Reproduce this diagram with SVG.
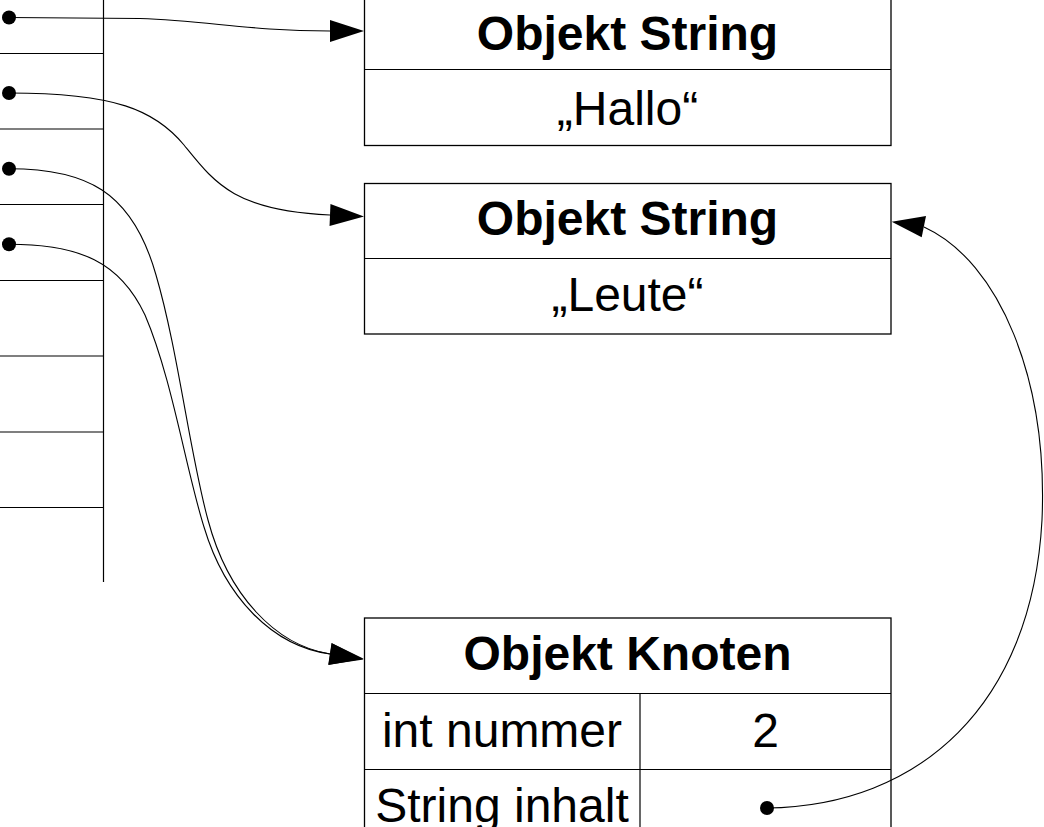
<svg xmlns="http://www.w3.org/2000/svg" width="1044" height="827" viewBox="0 0 1044 827">
  <style>
    .ln { fill: none; stroke: #000; stroke-width: 1.2; }
    .bx { fill: #fff; stroke: #000; stroke-width: 1.3; }
    .cn { fill: none; stroke: #000; stroke-width: 1.1; }
    .dot { fill: #000; }
    .hd { font-family: "Liberation Sans", Arial, sans-serif; font-size: 48px; font-weight: bold; text-anchor: middle; fill: #000; }
    .tx { font-family: "Liberation Sans", Arial, sans-serif; font-size: 48px; text-anchor: middle; fill: #000; }
  </style>
  <defs>
    <marker id="arr" markerUnits="userSpaceOnUse" markerWidth="36" markerHeight="24" refX="0" refY="11" orient="auto" overflow="visible">
      <path d="M0,0 L34,11 L0,22 z" fill="#000"/>
    </marker>
  </defs>
  <rect width="1044" height="827" fill="#fff"/>

  <g id="stack">
    <line class="ln" x1="103.5" y1="0" x2="103.5" y2="582"/>
    <line class="ln" x1="0" y1="53.5" x2="103.5" y2="53.5"/>
    <line class="ln" x1="0" y1="129" x2="103.5" y2="129"/>
    <line class="ln" x1="0" y1="204.5" x2="103.5" y2="204.5"/>
    <line class="ln" x1="0" y1="280.5" x2="103.5" y2="280.5"/>
    <line class="ln" x1="0" y1="356" x2="103.5" y2="356"/>
    <line class="ln" x1="0" y1="432" x2="103.5" y2="432"/>
    <line class="ln" x1="0" y1="507.5" x2="103.5" y2="507.5"/>
  </g>

  <g id="string1">
    <rect class="bx" x="364.5" y="-10" width="526.5" height="155.5"/>
    <line class="ln" x1="364.5" y1="69.5" x2="891" y2="69.5"/>
    <text class="hd" x="627.5" y="50">Objekt String</text>
    <text class="tx" x="627.5" y="125">„Hallo“</text>
  </g>

  <g id="string2">
    <rect class="bx" x="364.5" y="183.5" width="526.5" height="150.5"/>
    <line class="ln" x1="364.5" y1="258.5" x2="891" y2="258.5"/>
    <text class="hd" x="627.5" y="235">Objekt String</text>
    <text class="tx" x="627.5" y="311">„Leute“</text>
  </g>

  <g id="knoten">
    <rect class="bx" x="364.5" y="618" width="526.5" height="230"/>
    <line class="ln" x1="364.5" y1="693.5" x2="891" y2="693.5"/>
    <line class="ln" x1="364.5" y1="769.5" x2="891" y2="769.5"/>
    <line class="ln" x1="640" y1="693.5" x2="640" y2="840"/>
    <text class="hd" x="627.5" y="670">Objekt Knoten</text>
    <text class="tx" x="502" y="747">int nummer</text>
    <text class="tx" x="765.5" y="747">2</text>
    <text class="tx" x="502" y="822">String inhalt</text>
  </g>

  <g id="connectors">
    <path class="cn" d="M9,17.5 L140,18.5 C 210,21 250,31 330,31" marker-end="url(#arr)"/>
    <path class="cn" d="M9,93 C 115,93 155,110 184,145 C 214,182 234,211 330,215" marker-end="url(#arr)"/>
    <path class="cn" d="M9,168.7 C 85,168.7 132,190 156,275 C 178,350 190,455 208,520 C 228,595 275,645 330,654" marker-end="url(#arr)"/>
    <path class="cn" d="M9,244.3 C 80,244.3 120,262 145,315 C 172,378 186,470 204,527 C 225,597 272,646 330,654" marker-end="url(#arr)"/>
    <path class="cn" d="M767,808 C 920,806 1032,705 1042,520 C 1048,380 1000,262 924,227"/>
    <polygon points="891.7,221.7 926,216 921.7,237.3" fill="#000"/>
    <circle class="dot" cx="9" cy="17.5" r="7"/>
    <circle class="dot" cx="9" cy="93" r="7"/>
    <circle class="dot" cx="9" cy="168.7" r="7"/>
    <circle class="dot" cx="9" cy="244.3" r="7"/>
    <circle class="dot" cx="767" cy="808" r="7"/>
  </g>
</svg>
